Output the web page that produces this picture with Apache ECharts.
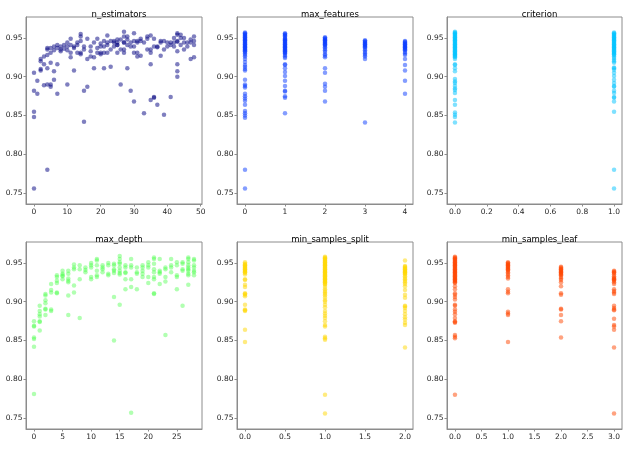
<!DOCTYPE html>
<html>
<head>
<meta charset="utf-8">
<script src="https://cdn.jsdelivr.net/npm/echarts@6/dist/echarts.min.js"></script>
<style>
  html, body { margin: 0; padding: 0; background: #fff; }
  #chart { width: 627px; height: 449px; }
</style>
</head>
<body>
<div id="chart"></div>
<script>
// score per trial, grouped by parameter value (array index = x value)
const nEstimatorsY = [
  [0.905, 0.882, 0.855, 0.848, 0.756],
  [0.895, 0.878],
  [0.923, 0.920, 0.910, 0.908],
  [0.926, 0.916, 0.889],
  [0.937, 0.935, 0.928, 0.911, 0.890, 0.780],
  [0.937, 0.931, 0.918, 0.890, 0.887],
  [0.939, 0.934, 0.907, 0.896],
  [0.941, 0.937, 0.916, 0.878],
  [0.939, 0.935, 0.933],
  [0.941, 0.936],
  [0.944, 0.939, 0.934, 0.890],
  [0.949, 0.941, 0.931, 0.925],
  [0.939, 0.937, 0.908],
  [0.944, 0.941, 0.931],
  [0.955, 0.952, 0.946, 0.931, 0.929],
  [0.939, 0.935, 0.882, 0.842],
  [0.949, 0.923, 0.887],
  [0.939, 0.933, 0.926],
  [0.944, 0.925, 0.911],
  [0.949, 0.937, 0.931],
  [0.943, 0.939, 0.931, 0.929],
  [0.946, 0.939, 0.931, 0.911],
  [0.953, 0.944, 0.941, 0.931],
  [0.946, 0.935, 0.913],
  [0.946, 0.944, 0.939],
  [0.948, 0.944, 0.941, 0.941, 0.931],
  [0.948, 0.935, 0.890],
  [0.958, 0.952, 0.944, 0.944, 0.935, 0.931],
  [0.952, 0.948, 0.941, 0.911],
  [0.944, 0.939, 0.882],
  [0.956, 0.946, 0.939, 0.931, 0.868],
  [0.946, 0.944, 0.931, 0.926],
  [0.949, 0.946, 0.927],
  [0.944, 0.853],
  [0.952, 0.949, 0.935],
  [0.953, 0.935, 0.931, 0.916, 0.870],
  [0.949, 0.939, 0.874, 0.873],
  [0.939, 0.938, 0.864],
  [0.946, 0.944, 0.927],
  [0.946, 0.935, 0.851],
  [0.944, 0.939],
  [0.944, 0.941, 0.874],
  [0.950, 0.944, 0.939],
  [0.956, 0.954, 0.946, 0.945, 0.933, 0.916, 0.907, 0.900],
  [0.954, 0.950, 0.941],
  [0.950, 0.944, 0.935],
  [0.944, 0.939],
  [0.948, 0.944, 0.923],
  [0.952, 0.946, 0.941, 0.925]
];

const maxFeaturesY = [
  [0.957, 0.956, 0.955, 0.954, 0.953, 0.952, 0.951, 0.950, 0.949, 0.948, 0.947, 0.946, 0.945, 0.944, 0.943,
   0.942, 0.941, 0.940, 0.939, 0.938, 0.937, 0.936, 0.935, 0.934, 0.933, 0.932, 0.930, 0.928, 0.926, 0.923,
   0.919, 0.915, 0.913, 0.910, 0.908, 0.896, 0.890, 0.888, 0.886, 0.878, 0.875, 0.872, 0.869, 0.864, 0.856,
   0.853, 0.850, 0.847, 0.780, 0.756],
  [0.956, 0.955, 0.954, 0.953, 0.952, 0.950, 0.949, 0.948, 0.947, 0.946, 0.945, 0.944, 0.943, 0.942, 0.941,
   0.940, 0.939, 0.938, 0.937, 0.936, 0.935, 0.934, 0.933, 0.932, 0.931, 0.930, 0.928, 0.926, 0.924, 0.916,
   0.915, 0.911, 0.906, 0.901, 0.895, 0.888, 0.882, 0.881, 0.875, 0.873, 0.853],
  [0.951, 0.950, 0.949, 0.948, 0.947, 0.946, 0.945, 0.944, 0.943, 0.942, 0.941, 0.940, 0.938, 0.936, 0.934,
   0.932, 0.929, 0.927, 0.925, 0.911, 0.905, 0.891, 0.887, 0.882, 0.868],
  [0.947, 0.946, 0.945, 0.944, 0.943, 0.942, 0.941, 0.940, 0.939, 0.938, 0.936, 0.934, 0.932, 0.930, 0.928,
   0.926, 0.923, 0.841],
  [0.946, 0.945, 0.944, 0.943, 0.942, 0.941, 0.940, 0.939, 0.938, 0.937, 0.936, 0.935, 0.934, 0.932, 0.930,
   0.928, 0.923, 0.915, 0.908, 0.895, 0.878]
];

const criterionY = [
  [0.958, 0.957, 0.956, 0.955, 0.954, 0.953, 0.952, 0.951, 0.950, 0.949, 0.948, 0.947, 0.946, 0.945, 0.944,
   0.943, 0.942, 0.941, 0.940, 0.939, 0.938, 0.937, 0.936, 0.935, 0.934, 0.933, 0.932, 0.931, 0.930, 0.929,
   0.928, 0.927, 0.926, 0.925, 0.923, 0.916, 0.915, 0.911, 0.907, 0.897, 0.894, 0.892, 0.888, 0.885, 0.883,
   0.879, 0.870, 0.864, 0.854, 0.851, 0.848, 0.841],
  [0.957, 0.956, 0.955, 0.954, 0.953, 0.952, 0.951, 0.950, 0.949, 0.948, 0.947, 0.946, 0.945, 0.944, 0.943,
   0.942, 0.941, 0.940, 0.939, 0.938, 0.937, 0.936, 0.935, 0.934, 0.933, 0.932, 0.931, 0.930, 0.929, 0.928,
   0.926, 0.924, 0.922, 0.920, 0.918, 0.912, 0.911, 0.909, 0.905, 0.901, 0.896, 0.892, 0.888, 0.887, 0.882,
   0.879, 0.874, 0.873, 0.868, 0.855, 0.780, 0.756]
];

const maxDepthY = [
  [0.875, 0.869, 0.868, 0.854, 0.852, 0.842, 0.781],
  [0.895, 0.888, 0.884, 0.881, 0.875, 0.874, 0.863],
  [0.910, 0.908, 0.902, 0.898, 0.891, 0.890, 0.883],
  [0.923, 0.915, 0.912, 0.890, 0.888],
  [0.934, 0.932, 0.927, 0.924, 0.912, 0.911],
  [0.940, 0.936, 0.934, 0.933, 0.929],
  [0.940, 0.936, 0.930, 0.927, 0.925, 0.908, 0.883],
  [0.948, 0.944, 0.942, 0.921, 0.912],
  [0.947, 0.942, 0.929, 0.879],
  [0.944, 0.941, 0.938],
  [0.950, 0.947, 0.944, 0.932, 0.929],
  [0.955, 0.953, 0.947, 0.940, 0.934, 0.932],
  [0.947, 0.944, 0.942, 0.938],
  [0.950, 0.947, 0.936, 0.934],
  [0.949, 0.947, 0.942, 0.940, 0.937, 0.906, 0.850],
  [0.959, 0.955, 0.951, 0.949, 0.944, 0.940, 0.937, 0.935, 0.896],
  [0.947, 0.944, 0.938, 0.937, 0.929, 0.916],
  [0.955, 0.947, 0.944, 0.929, 0.919, 0.757],
  [0.944, 0.938, 0.936, 0.916],
  [0.947, 0.944, 0.940, 0.936, 0.932],
  [0.951, 0.947, 0.944, 0.932, 0.924],
  [0.957, 0.955, 0.949, 0.942, 0.938, 0.932, 0.929, 0.911, 0.910],
  [0.955, 0.940, 0.938, 0.936, 0.923],
  [0.944, 0.942, 0.932, 0.926, 0.857],
  [0.955, 0.947, 0.944, 0.938],
  [0.951, 0.947, 0.934, 0.932, 0.916],
  [0.951, 0.949, 0.942, 0.940, 0.895],
  [0.957, 0.955, 0.951, 0.947, 0.944, 0.942, 0.940, 0.936, 0.934, 0.922],
  [0.955, 0.953, 0.947, 0.944, 0.940, 0.938, 0.934]
];

const minSplitY = [
  [0.951, 0.949, 0.948, 0.947, 0.946, 0.945, 0.944, 0.943, 0.942, 0.941, 0.940, 0.939, 0.938, 0.937, 0.935,
   0.929, 0.928, 0.922, 0.919, 0.911, 0.910, 0.909, 0.907, 0.896, 0.890, 0.889, 0.888, 0.864, 0.848],
  [0.958, 0.957, 0.956, 0.955, 0.954, 0.953, 0.952, 0.951, 0.950, 0.949, 0.948, 0.947, 0.946, 0.945, 0.944,
   0.943, 0.942, 0.941, 0.940, 0.939, 0.938, 0.937, 0.936, 0.935, 0.934, 0.933, 0.932, 0.931, 0.930, 0.929,
   0.928, 0.927, 0.926, 0.925, 0.924, 0.923, 0.922, 0.919, 0.916, 0.914, 0.912, 0.910, 0.908, 0.905, 0.902,
   0.900, 0.896, 0.893, 0.888, 0.885, 0.882, 0.879, 0.875, 0.870, 0.868, 0.855, 0.853, 0.851, 0.780, 0.756],
  [0.953, 0.946, 0.945, 0.944, 0.943, 0.942, 0.941, 0.940, 0.939, 0.938, 0.937, 0.936, 0.935, 0.933, 0.931,
   0.929, 0.927, 0.925, 0.923, 0.920, 0.915, 0.909, 0.905, 0.895, 0.894, 0.892, 0.888, 0.884, 0.880, 0.877,
   0.873, 0.870, 0.841]
];

const minLeafY = [
  [0.958, 0.957, 0.956, 0.955, 0.954, 0.953, 0.952, 0.951, 0.950, 0.949, 0.948, 0.947, 0.946, 0.945, 0.944,
   0.943, 0.942, 0.941, 0.940, 0.939, 0.938, 0.937, 0.936, 0.935, 0.934, 0.933, 0.932, 0.931, 0.930, 0.929,
   0.928, 0.927, 0.926, 0.925, 0.924, 0.920, 0.916, 0.911, 0.909, 0.906, 0.903, 0.896, 0.895, 0.890, 0.887,
   0.884, 0.879, 0.875, 0.874, 0.873, 0.857, 0.855, 0.853, 0.780],
  [0.951, 0.950, 0.949, 0.948, 0.947, 0.946, 0.945, 0.944, 0.943, 0.942, 0.941, 0.940, 0.938, 0.936, 0.934,
   0.932, 0.930, 0.916, 0.913, 0.911, 0.887, 0.885, 0.883, 0.848],
  [0.945, 0.944, 0.943, 0.942, 0.941, 0.940, 0.939, 0.938, 0.937, 0.936, 0.935, 0.934, 0.932, 0.930, 0.928,
   0.925, 0.920, 0.911, 0.909, 0.891, 0.890, 0.883, 0.875, 0.854],
  [0.940, 0.939, 0.938, 0.937, 0.935, 0.933, 0.931, 0.930, 0.929, 0.928, 0.927, 0.925, 0.923, 0.916, 0.914,
   0.912, 0.910, 0.895, 0.892, 0.890, 0.889, 0.878, 0.870, 0.868, 0.864, 0.841, 0.756]
];

const titles = ['n_estimators', 'max_features', 'criterion', 'max_depth', 'min_samples_split', 'min_samples_leaf'];
const colors = ['#000080', '#0a3cff', '#00c4ff', '#3cff3c', '#ffd700', '#ff4500'];
const xTicks = [
  [0, 10, 20, 30, 40, 50],
  [0, 1, 2, 3, 4],
  [0, 0.2, 0.4, 0.6, 0.8, 1.0],
  [0, 5, 10, 15, 20, 25],
  [0, 0.5, 1.0, 1.5, 2.0],
  [0, 0.5, 1.0, 1.5, 2.0, 2.5, 3.0]
];
const xDigits = [0, 0, 1, 0, 1, 1];
const yTicks = [0.75, 0.80, 0.85, 0.90, 0.95];

const panels = [nEstimatorsY, maxFeaturesY, criterionY, maxDepthY, minSplitY, minLeafY];
const toPoints = cols => cols.flatMap((ys, x) => ys.map(y => [x, y]));

// layout of the 2x3 grid (px)
const lefts = [26, 237, 447];
const widths = [176, 176, 175];
const tops = [17, 242];
const gridH = 187;

const chart = echarts.init(document.getElementById('chart'));
const font = 'DejaVu Sans';
const axisColor = '#8c8c8c';

const grid = [], xAxis = [], yAxis = [], series = [], title = [];
panels.forEach((cols, i) => {
  const r = Math.floor(i / 3), c = i % 3;
  const xmax = cols.length - 1;
  const pad = xmax * 0.05;
  grid.push({
    left: lefts[c], top: tops[r], width: widths[c], height: gridH,
    show: true, borderColor: axisColor, borderWidth: 1, backgroundColor: '#fff'
  });
  title.push({
    text: titles[i],
    left: lefts[c] + widths[c] / 2, textAlign: 'center',
    top: tops[r] - 12,
    textStyle: { fontFamily: font, fontSize: 8.5, fontWeight: 'normal', color: '#000' }
  });
  xAxis.push({
    type: 'value', gridIndex: i, min: -pad, max: xmax + pad,
    axisLine: { show: true, onZero: false, lineStyle: { color: axisColor } },
    axisTick: { show: true, length: 2.5, customValues: xTicks[i], lineStyle: { color: axisColor } },
    axisLabel: {
      customValues: xTicks[i], margin: 4, fontFamily: font, fontSize: 7.5, color: '#262626',
      formatter: v => v.toFixed(xDigits[i])
    },
    splitLine: { show: false }
  });
  yAxis.push({
    type: 'value', gridIndex: i, min: 0.736, max: 0.977,
    axisLine: { show: true, onZero: false, lineStyle: { color: axisColor } },
    axisTick: { show: true, length: 2.5, customValues: yTicks, lineStyle: { color: axisColor } },
    axisLabel: {
      customValues: yTicks, margin: 3.5, fontFamily: font, fontSize: 7.5, color: '#262626',
      formatter: v => v.toFixed(2)
    },
    splitLine: { show: false }
  });
  series.push({
    type: 'scatter', xAxisIndex: i, yAxisIndex: i,
    symbolSize: 4.5,
    itemStyle: { color: colors[i], opacity: i === 3 ? 0.4 : 0.5 },
    data: toPoints(cols),
    animation: false
  });
});

chart.setOption({ animation: false, title, grid, xAxis, yAxis, series });
</script>
</body>
</html>
